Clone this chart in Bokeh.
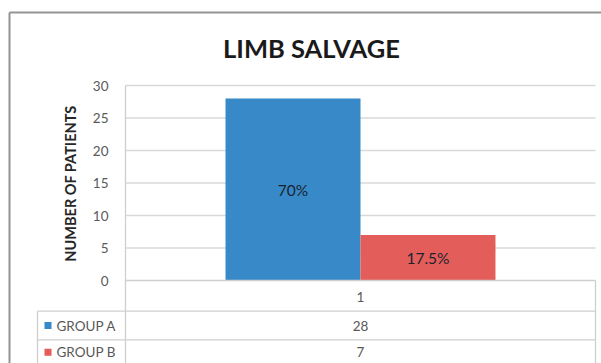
from bokeh.plotting import figure
from bokeh.models import Range1d
from bokeh.core.properties import value
from bokeh.embed import file_html
from bokeh.resources import INLINE

# ---- data ----
categories = ["1"]
groups = ["GROUP A", "GROUP B"]
values = [28, 7]
percent_labels = ["70%", "17.5%"]
y_ticks = [0, 5, 10, 15, 20, 25, 30]
title_text = "LIMB SALVAGE"
y_title = "NUMBER OF PATIENTS"
colors = ["#3789c8", "#e35d5a"]

# ---- layout (pixels) ----
W, H = 601, 363
PL, PR, PT, PB = 125, 595, 85, 280          # plot area
YMAX = y_ticks[-1]
ppu_x = (PR - PL) / 1.0
ppu_y = (PB - PT) / YMAX
x_start = 0.5 - PL / ppu_x
x_end = 0.5 + (W - PL) / ppu_x
y_end = YMAX + PT / ppu_y
y_start = 0 - (H - PB) / ppu_y

def px2x(px):
    return x_start + px / ppu_x

def py2y(py):
    return y_end - py / ppu_y

p = figure(width=W, height=H, output_backend="svg", toolbar_location=None,
           x_range=Range1d(x_start, x_end), y_range=Range1d(y_start, y_end),
           min_border=0)
p.axis.visible = False
p.grid.visible = False
p.outline_line_color = None
p.background_fill_color = "white"
p.border_fill_color = "white"

FONT = value("Lato")
GRAY_TXT = "#595959"

# outer border (top & left)
p.segment(x0=[px2x(9), px2x(9)], y0=[py2y(12), py2y(12)],
          x1=[px2x(W + 5), px2x(9)], y1=[py2y(12), py2y(H + 5)],
          line_color="#949494", line_width=2)

# gridlines
grid_ticks = [t for t in y_ticks if t > 0]
p.segment(x0=[0.5] * len(grid_ticks), x1=[1.5] * len(grid_ticks),
          y0=grid_ticks, y1=grid_ticks, line_color="#d9d9d9", line_width=1.6)

# bars
n = len(groups)
bw = 0.2872
cat_x = 1.0
xs = [cat_x + (i - (n - 1) / 2) * bw for i in range(n)]
p.vbar(x=xs, top=values, bottom=0, width=bw, fill_color=colors, line_color=None)

# percent labels
p.text(x=xs, y=[v / 2 for v in values], text=percent_labels,
       text_align="center", text_baseline="middle", text_font=FONT,
       text_font_size=value("15.5px"), text_color="#1c2330")

# table lines
tbl_color = "#cfcfcf"
row1 = py2y(310.7)
row2 = py2y(339.3)
bottom = py2y(H + 5)
p.segment(x0=[0.5, px2x(37), px2x(37)], x1=[1.5, 1.5, 1.5],
          y0=[0, row1, row2], y1=[0, row1, row2], line_color=tbl_color, line_width=1.3)
p.segment(x0=[0.5, 1.5, px2x(37)], x1=[0.5, 1.5, px2x(37)],
          y0=[YMAX, 0, row1], y1=[bottom, bottom, bottom], line_color=tbl_color, line_width=1.3)

# y tick labels
p.text(x=[px2x(108)] * len(y_ticks), y=y_ticks, text=[str(t) for t in y_ticks],
       text_align="right", text_baseline="middle", text_font=FONT,
       text_font_size=value("13.5px"), text_color=GRAY_TXT)

# y-axis title
p.text(x=[px2x(70)], y=[py2y(183)], text=[y_title], angle=1.5708,
       text_align="center", text_baseline="middle", text_font=FONT,
       text_font_size=value("14.5px"), text_font_style="bold", text_color="#262626")

# chart title
p.text(x=[px2x(311)], y=[py2y(47)], text=[title_text],
       text_align="center", text_baseline="middle", text_font=FONT,
       text_font_size=value("25.5px"), text_font_style="bold", text_color="#1a1a1a")

# data table texts
row_centers = [py2y(296.7), py2y(325), py2y(351.7)]
p.text(x=[cat_x] * 3, y=row_centers, text=categories + [str(v) for v in values],
       text_align="center", text_baseline="middle", text_font=FONT,
       text_font_size=value("13.5px"), text_color=GRAY_TXT)

# legend keys in table
p.rect(x=[px2x(47.5)] * n, y=row_centers[1:], width=7 / ppu_x, height=7 / ppu_y,
       fill_color=colors, line_color=None)
p.text(x=[px2x(56)] * n, y=row_centers[1:], text=groups,
       text_align="left", text_baseline="middle", text_font=FONT,
       text_font_size=value("13.5px"), text_color=GRAY_TXT)

open("out.html", "w").write(file_html(p, INLINE))
